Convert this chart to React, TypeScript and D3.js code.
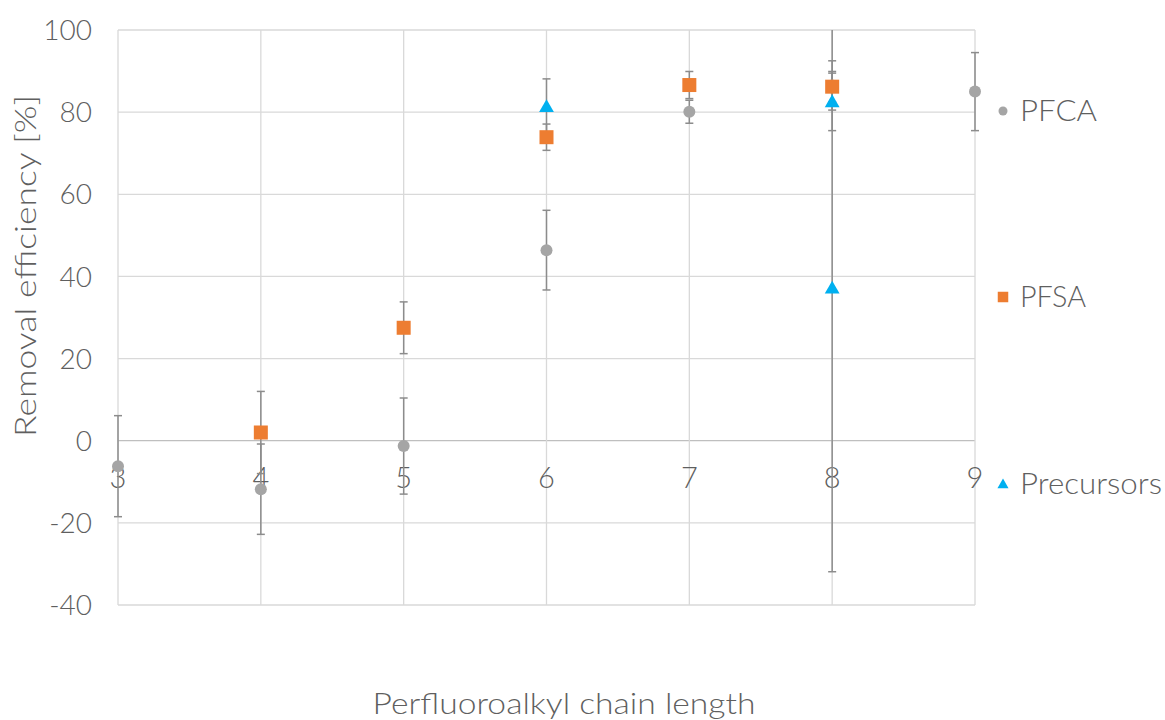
import React from "react";
import * as d3 from "d3";

const pfcaX = [3, 4, 5, 6, 7, 8, 9];
const pfcaY = [-6.2, -11.8, -1.3, 46.4, 80.1, 86.5, 85.0];
const pfcaErr = [12.3, 11, 11.7, 9.7, 2.8, 6, 9.5];

const pfsaX = [4, 5, 6, 7, 8];
const pfsaY = [2, 27.5, 73.9, 86.6, 86.2];
const pfsaErr = [10, 6.3, 3.2, 3.3, 3.7];

const precX = [6, 8, 8];
const precY = [81.3, 82.5, 37.1];
const precErr = [6.8, 7, 69];

const xTicks = [3, 4, 5, 6, 7, 8, 9];
const yTicks = [-40, -20, 0, 20, 40, 60, 80, 100];

const seriesNames = ["PFCA", "PFSA", "Precursors"];
const legendWidths = [77, 66, 142];
const colors = ["#a5a5a5", "#ed7d31", "#00b0f0"];

const W = 1165;
const H = 720;
const FONT = "Lato, 'Open Sans', sans-serif";
const TXT = "#5f5f5f";

export default function App() {
  const x = d3.scaleLinear().domain([3, 9]).range([118, 975]);
  const y = d3.scaleLinear().domain([-40, 100]).range([605, 30]);
  const [y0, y1] = [y.range()[1], y.range()[0]];

  const series = [
    { xs: pfcaX, ys: pfcaY, es: pfcaErr },
    { xs: pfsaX, ys: pfsaY, es: pfsaErr },
    { xs: precX, ys: precY, es: precErr },
  ];

  const clampY = (v: number) => Math.max(y0, Math.min(y1, v));
  const tri = d3.symbol().type(d3.symbolTriangle).size(95)();

  const marker = (si: number, cx: number, cy: number, key: string, scale = 1) => {
    if (si === 0)
      return <circle key={key} cx={cx} cy={cy} r={6 * scale} fill={colors[0]} />;
    if (si === 1) {
      const s = 14 * scale;
      return <rect key={key} x={cx - s / 2} y={cy - s / 2} width={s} height={s} fill={colors[1]} />;
    }
    return (
      <path key={key} d={tri as string} transform={`translate(${cx},${cy + 1}) scale(${scale})`} fill={colors[2]} />
    );
  };

  return (
    <svg width={W} height={H} style={{ position: "absolute", left: 0, top: 0, background: "#fff" }}>
      {/* grid */}
      {yTicks.map((t) => (
        <line key={"gy" + t} x1={x(3)} x2={x(9)} y1={y(t)} y2={y(t)} stroke={t === 0 ? "#bfbfbf" : "#d9d9d9"} strokeWidth={1.3} />
      ))}
      {xTicks.map((t) => (
        <line key={"gx" + t} x1={x(t)} x2={x(t)} y1={y0} y2={y1} stroke="#d9d9d9" strokeWidth={1.3} />
      ))}
      {/* y tick labels */}
      {yTicks.map((t) => (
        <text key={"ly" + t} x={92} y={y(t)} dy="0.36em" textAnchor="end" fontFamily={FONT} fontWeight={300} fontSize={28} fill={TXT}>
          {t}
        </text>
      ))}
      {/* x tick labels */}
      {xTicks.map((t) => (
        <text key={"lx" + t} x={x(t)} y={y(0) + 47} textAnchor="middle" fontFamily={FONT} fontWeight={300} fontSize={29} fill={TXT}>
          {t}
        </text>
      ))}
      {/* error bars */}
      {series.map((s, si) =>
        s.xs.map((xv, i) => {
          const cx = x(xv);
          const top = y(s.ys[i] + s.es[i]);
          const bot = y(s.ys[i] - s.es[i]);
          return (
            <g key={`e${si}-${i}`} stroke="#8c8c8c" strokeWidth={1.5}>
              <line x1={cx} x2={cx} y1={clampY(top)} y2={clampY(bot)} />
              {top >= y0 && <line x1={cx - 4} x2={cx + 4} y1={top} y2={top} />}
              {bot <= y1 && <line x1={cx - 4} x2={cx + 4} y1={bot} y2={bot} />}
            </g>
          );
        })
      )}
      {/* markers */}
      {series.map((s, si) => s.xs.map((xv, i) => marker(si, x(xv), y(s.ys[i]), `m${si}-${i}`)))}
      {/* legend */}
      {seriesNames.map((n, i) => {
        const ly = [111, 297, 484][i];
        return (
          <g key={"lg" + n}>
            {marker(i, 1003, ly, "lm" + i, 0.75)}
            <text x={1020} y={ly} dy="0.36em" fontFamily={FONT} fontWeight={300} fontSize={29} fill={TXT} textLength={legendWidths[i]} lengthAdjust="spacingAndGlyphs">
              {n}
            </text>
          </g>
        );
      })}
      {/* axis titles */}
      <text x={564} y={714} textAnchor="middle" fontFamily={FONT} fontWeight={300} fontSize={29} fill={TXT} textLength={383} lengthAdjust="spacingAndGlyphs">
        Perfluoroalkyl chain length
      </text>
      <text transform={`translate(36,${266}) rotate(-90)`} textAnchor="middle" fontFamily={FONT} fontWeight={300} fontSize={29} fill={TXT} textLength={342} lengthAdjust="spacingAndGlyphs">
        Removal efficiency [%]
      </text>
    </svg>
  );
}
